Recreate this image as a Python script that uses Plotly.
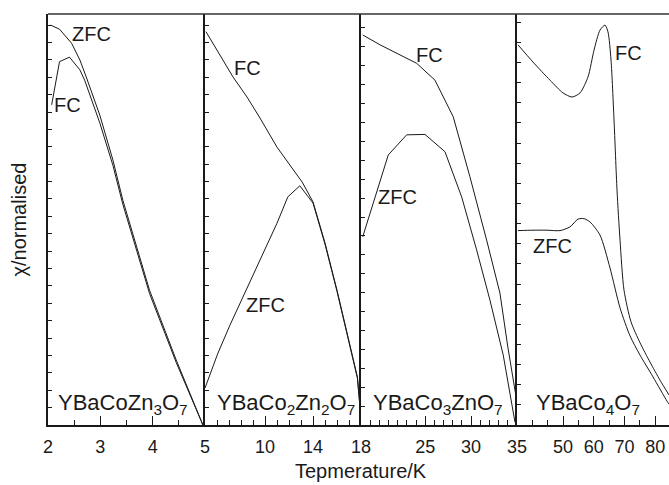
import plotly.graph_objects as go

# ---------------- data ----------------
# Panel 1: YBaCoZn3O7
t1_zfc = [2.05, 2.22, 2.45, 2.61, 2.73, 2.99, 3.24, 3.43, 3.94, 4.45, 4.96]
y1_zfc = [0.973, 0.963, 0.929, 0.888, 0.847, 0.754, 0.645, 0.547, 0.328, 0.158, 0.0]
t1_fc = [2.07, 2.22, 2.41, 2.61, 2.70, 2.99, 3.24, 3.43, 3.94, 4.45, 4.96]
y1_fc = [0.779, 0.884, 0.895, 0.864, 0.839, 0.735, 0.632, 0.537, 0.320, 0.152, 0.0]

# Panel 2: YBaCo2Zn2O7
t2_fc = [5.08, 6.25, 7.33, 8.5, 9.58, 11.0, 12.1, 13.1, 14.0, 15.0, 16.0, 16.9, 17.7, 18.0]
y2_fc = [0.957, 0.900, 0.847, 0.798, 0.747, 0.676, 0.633, 0.591, 0.543, 0.443, 0.328, 0.214, 0.117, 0.02]
t2_zfc = [5.0, 6.08, 7.08, 8.33, 9.83, 11.0, 11.9, 12.9, 14.0, 15.0, 16.0, 16.9, 17.7, 18.0]
y2_zfc = [0.09, 0.175, 0.243, 0.321, 0.418, 0.491, 0.555, 0.582, 0.540, 0.440, 0.325, 0.211, 0.114, 0.015]

# Panel 3: YBaCo3ZnO7
t3_fc = [18.19, 20.07, 24.07, 26.06, 28.05, 29.87, 31.69, 33.14, 34.0, 34.96]
y3_fc = [0.949, 0.925, 0.880, 0.839, 0.750, 0.604, 0.450, 0.321, 0.19, 0.06]
t3_zfc = [18.19, 19.53, 20.97, 22.98, 24.97, 27.15, 28.97, 30.6, 32.05, 33.5, 34.78]
y3_zfc = [0.458, 0.555, 0.657, 0.706, 0.707, 0.665, 0.555, 0.426, 0.304, 0.170, 0.007]

# Panel 4: YBaCo4O7
t4_fc = [35.33, 40.21, 45.75, 49.98, 52.92, 55.52, 58.13, 60.08, 62.04, 63.66, 64.64,
         65.62, 66.6, 67.57, 68.55, 69.85, 72.13, 75.07, 78.32, 81.58, 84.5]
y4_fc = [0.925, 0.883, 0.839, 0.808, 0.798, 0.808, 0.847, 0.912, 0.961, 0.973, 0.956,
         0.888, 0.742, 0.572, 0.450, 0.328, 0.251, 0.200, 0.153, 0.109, 0.073]
t4_zfc = [35.33, 40.21, 44.77, 49.0, 52.26, 54.87, 56.82, 58.78, 62.04, 65.29, 68.55,
          71.8, 75.07, 79.3, 83.86, 84.5]
y4_zfc = [0.473, 0.474, 0.474, 0.473, 0.482, 0.501, 0.502, 0.494, 0.462, 0.382, 0.285,
          0.217, 0.170, 0.117, 0.058, 0.051]

x_ranges = [[2, 5], [5, 18], [18, 35], [35, 84.5]]
tick_vals = [[2, 3, 4, 5], [10, 14, 18], [25, 30, 35], [50, 60, 70, 80]]
minor_ticks = [(2, 0.5), (5, 1), (18, 1), (35, 5)]
panel_names = ["YBaCoZn<sub>3</sub>O<sub>7</sub>", "YBaCo<sub>2</sub>Zn<sub>2</sub>O<sub>7</sub>",
               "YBaCo<sub>3</sub>ZnO<sub>7</sub>", "YBaCo<sub>4</sub>O<sub>7</sub>"]
panel_name_x = [3.43, 11.75, 26.4, 58.1]
fc_label_pos = [(2.38, 0.779), (8.5, 0.869), (25.5, 0.900), (71.2, 0.905)]
zfc_label_pos = [(2.84, 0.951), (10.0, 0.292), (22.0, 0.555), (46.4, 0.436)]

# ---------------- figure ----------------
FONT = "Liberation Sans, Arial, Helvetica, sans-serif"
INK = "#1a1a1a"
W, H = 669, 485
ML, MR, MT, MB = 48, 0, 14, 60
pw = W - ML - MR
edges_px = [0, 157, 313, 469, pw]
domains = [[edges_px[i] / pw, edges_px[i + 1] / pw] for i in range(4)]

fig = go.Figure()
series = [
    (t1_fc, y1_fc, t1_zfc, y1_zfc, "linear"),
    (t2_fc, y2_fc, t2_zfc, y2_zfc, "linear"),
    (t3_fc, y3_fc, t3_zfc, y3_zfc, "linear"),
    (t4_fc, y4_fc, t4_zfc, y4_zfc, "spline"),
]
for i, (tf, yf, tz, yz, shape) in enumerate(series):
    xa = "x" if i == 0 else f"x{i+1}"
    ya = "y" if i == 0 else f"y{i+1}"
    for tt, yy, nm in ((tf, yf, "FC"), (tz, yz, "ZFC")):
        fig.add_trace(go.Scatter(
            x=tt, y=yy, mode="lines", name=nm, xaxis=xa, yaxis=ya,
            line=dict(color=INK, width=1, shape=shape, smoothing=0.7),
            showlegend=False, hoverinfo="skip", cliponaxis=True))

layout = dict(
    width=W, height=H,
    margin=dict(l=ML, r=MR, t=MT, b=MB, pad=0, autoexpand=False),
    paper_bgcolor="white", plot_bgcolor="white",
    font=dict(family=FONT, color=INK),
    showlegend=False,
)
for i in range(4):
    sfx = "" if i == 0 else str(i + 1)
    t0, dt = minor_ticks[i]
    layout["xaxis" + sfx] = dict(
        domain=domains[i], range=x_ranges[i], anchor="y" + sfx, automargin=False,
        showgrid=False, zeroline=False, showline=True, linecolor=INK, linewidth=2,
        tickmode="array", tickvals=tick_vals[i], ticktext=[str(v) for v in tick_vals[i]],
        ticks="inside", ticklen=9, tickwidth=1, tickcolor=INK,
        tickfont=dict(size=18, family=FONT, color=INK), ticklabelstandoff=4,
        minor=dict(tick0=t0, dtick=dt, ticks="inside", ticklen=5, tickwidth=1,
                   tickcolor=INK, showgrid=False),
    )
    layout["yaxis" + sfx] = dict(
        domain=[0, 1], range=[0, 1], anchor="x" + sfx, automargin=False,
        showgrid=False, zeroline=False, showline=True, linecolor=INK, linewidth=2,
        showticklabels=False, ticks="inside", ticklen=4, tickwidth=1, tickcolor=INK,
        tickmode="linear", tick0=0.0, dtick=[0.0423, 0.0423, 0.046, 0.049][i],
    )
fig.update_layout(**layout)

# top border
fig.add_shape(type="line", xref="paper", yref="paper", x0=0, x1=1, y0=1, y1=1,
              line=dict(color="#333333", width=1.5))

ann = []
for i in range(4):
    sfx = "" if i == 0 else str(i + 1)
    ann.append(dict(x=panel_name_x[i], y=0.052, xref="x" + sfx, yref="y" + sfx,
                    text=panel_names[i], showarrow=False,
                    font=dict(size=22, family=FONT, color=INK)))
    ann.append(dict(x=fc_label_pos[i][0], y=fc_label_pos[i][1], xref="x" + sfx, yref="y" + sfx,
                    text="FC", showarrow=False, font=dict(size=20, family=FONT, color=INK)))
    ann.append(dict(x=zfc_label_pos[i][0], y=zfc_label_pos[i][1], xref="x" + sfx, yref="y" + sfx,
                    text="ZFC", showarrow=False, font=dict(size=20, family=FONT, color=INK)))

ann.append(dict(x=(361 - ML) / pw, y=-(471 - 425) / 411, xref="paper", yref="paper",
                text="Tepmerature/K", showarrow=False, yanchor="middle",
                font=dict(size=20, family=FONT, color=INK)))
ann.append(dict(x=-(ML - 18) / pw, y=0.5, xref="paper", yref="paper",
                text="χ/normalised", showarrow=False, textangle=-90, xanchor="center",
                font=dict(size=20, family=FONT, color=INK)))
fig.update_layout(annotations=ann)

fig.write_html("out.html")
